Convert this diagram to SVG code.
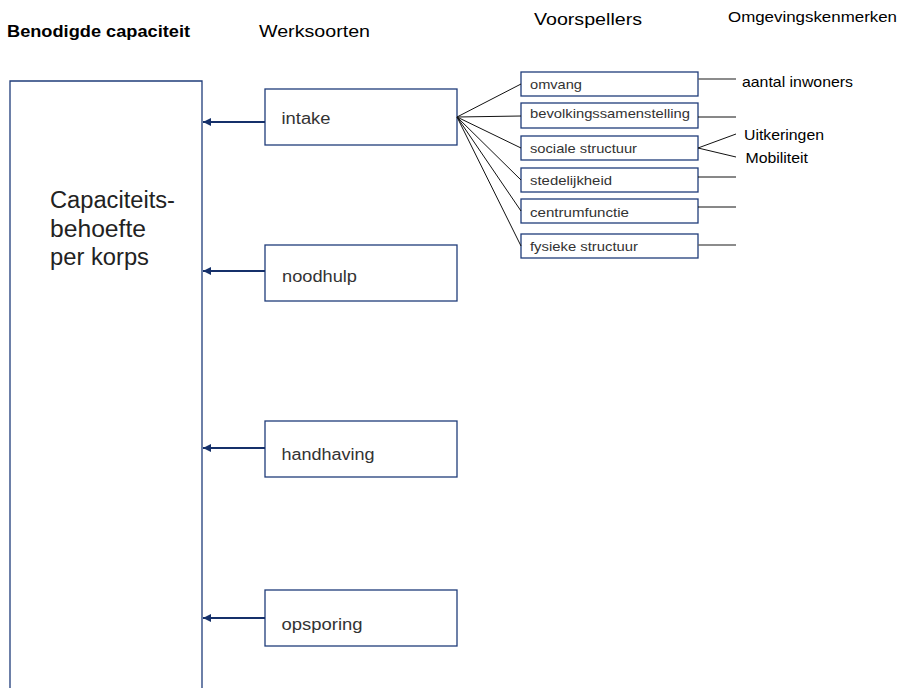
<svg xmlns="http://www.w3.org/2000/svg" width="901" height="688" viewBox="0 0 901 688">
<defs>
<style>
.hdr{font-family:"Liberation Sans",Arial,sans-serif;fill:#000}
.box{fill:#fff;stroke:#1f3c7a;stroke-width:1.3}
.wt{font-family:"Liberation Sans",Arial,sans-serif;font-size:16px;fill:#333}
.vt{font-family:"Liberation Sans",Arial,sans-serif;font-size:13px;fill:#333}
.ot{font-family:"Liberation Sans",Arial,sans-serif;font-size:14.5px;fill:#000}
.arr{stroke:#15306a;stroke-width:2.2;fill:none}
.ln{stroke:#111;stroke-width:1;fill:none}
.lg{stroke:#666;stroke-width:1.5;fill:none}
</style>
<marker id="ah" markerWidth="9" markerHeight="9" refX="8" refY="4.5" orient="auto" markerUnits="userSpaceOnUse">
<path d="M0,0.5 L8,4.5 L0,8.5 Z" fill="#15306a"/>
</marker>
</defs>
<rect width="901" height="688" fill="#fff"/>
<g id="headers">
<text class="hdr" x="7" y="37" font-size="16" font-weight="bold" textLength="183" lengthAdjust="spacingAndGlyphs">Benodigde capaciteit</text>
<text class="hdr" x="259" y="37" font-size="16" textLength="111" lengthAdjust="spacingAndGlyphs">Werksoorten</text>
<text class="hdr" x="534" y="25" font-size="16" textLength="108" lengthAdjust="spacingAndGlyphs">Voorspellers</text>
<text class="hdr" x="728" y="21.5" font-size="14.5" textLength="169" lengthAdjust="spacingAndGlyphs">Omgevingskenmerken</text>
</g>
<g id="capaciteit">
<path class="box" d="M10,700 V81 H202 V700"/>
<text font-family="Liberation Sans,Arial,sans-serif" font-size="23" fill="#222"><tspan x="50" y="208" textLength="125" lengthAdjust="spacingAndGlyphs">Capaciteits-</tspan><tspan x="50" y="237" textLength="96" lengthAdjust="spacingAndGlyphs">behoefte</tspan><tspan x="50" y="265" textLength="99" lengthAdjust="spacingAndGlyphs">per korps</tspan></text>
</g>
<g id="intake"><rect class="box" x="265" y="89" width="192" height="56"/><text class="wt" x="281.5" y="124" textLength="49" lengthAdjust="spacingAndGlyphs">intake</text></g>
<g id="noodhulp"><rect class="box" x="265" y="245" width="192" height="56"/><text class="wt" x="282" y="281.5" textLength="75" lengthAdjust="spacingAndGlyphs">noodhulp</text></g>
<g id="handhaving"><rect class="box" x="265" y="421" width="192" height="56"/><text class="wt" x="281.5" y="460" textLength="93" lengthAdjust="spacingAndGlyphs">handhaving</text></g>
<g id="opsporing"><rect class="box" x="265" y="590" width="192" height="56"/><text class="wt" x="281.5" y="630" textLength="81" lengthAdjust="spacingAndGlyphs">opsporing</text></g>
<g id="omvang"><rect class="box" x="521" y="72" width="177" height="24"/><text class="vt" x="530" y="89" textLength="52" lengthAdjust="spacingAndGlyphs">omvang</text></g>
<g id="bevolkingssamenstelling"><rect class="box" x="521" y="103" width="177" height="25"/><text class="vt" x="530" y="118" textLength="160" lengthAdjust="spacingAndGlyphs">bevolkingssamenstelling</text></g>
<g id="sociale"><rect class="box" x="521" y="136" width="177" height="24"/><text class="vt" x="530" y="152.5" textLength="107" lengthAdjust="spacingAndGlyphs">sociale structuur</text></g>
<g id="stedelijkheid"><rect class="box" x="521" y="168" width="177" height="24"/><text class="vt" x="530" y="184.5" textLength="82" lengthAdjust="spacingAndGlyphs">stedelijkheid</text></g>
<g id="centrumfunctie"><rect class="box" x="521" y="199" width="177" height="24"/><text class="vt" x="530" y="216.5" textLength="99" lengthAdjust="spacingAndGlyphs">centrumfunctie</text></g>
<g id="fysieke"><rect class="box" x="521" y="234" width="177" height="24"/><text class="vt" x="530" y="250.5" textLength="108" lengthAdjust="spacingAndGlyphs">fysieke structuur</text></g>
<g id="omgeving">
<text class="ot" x="742" y="87" textLength="111" lengthAdjust="spacingAndGlyphs">aantal inwoners</text>
<text class="ot" x="744" y="140" textLength="80" lengthAdjust="spacingAndGlyphs">Uitkeringen</text>
<text class="ot" x="745.5" y="163" textLength="62.5" lengthAdjust="spacingAndGlyphs">Mobiliteit</text>
</g>
<g id="connectors">
<line class="arr" x1="265" y1="122" x2="203" y2="122" marker-end="url(#ah)"/>
<line class="arr" x1="265" y1="271" x2="203" y2="271" marker-end="url(#ah)"/>
<line class="arr" x1="265" y1="448" x2="203" y2="448" marker-end="url(#ah)"/>
<line class="arr" x1="265" y1="618" x2="203" y2="618" marker-end="url(#ah)"/>
<line class="ln" x1="457" y1="117" x2="521" y2="84"/>
<line class="ln" x1="457" y1="117" x2="521" y2="116"/>
<line class="ln" x1="457" y1="117" x2="521" y2="148"/>
<line class="ln" x1="457" y1="117" x2="521" y2="180"/>
<line class="ln" x1="457" y1="117" x2="521" y2="211"/>
<line class="ln" x1="457" y1="117" x2="521" y2="246"/>
<line class="lg" x1="698" y1="79" x2="736" y2="79"/>
<line class="ln" x1="698" y1="117" x2="736" y2="117"/>
<line class="ln" x1="698" y1="148" x2="736" y2="134"/>
<line class="ln" x1="698" y1="148" x2="736" y2="157"/>
<line class="ln" x1="698" y1="177" x2="736" y2="177"/>
<line class="ln" x1="698" y1="207" x2="736" y2="207"/>
<line class="lg" x1="698" y1="245" x2="736" y2="245"/>
</g>
</svg>
